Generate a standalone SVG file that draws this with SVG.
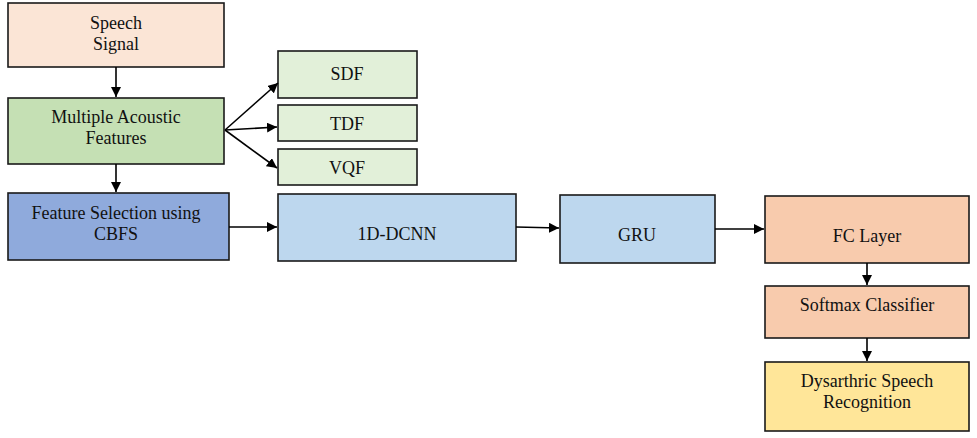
<svg xmlns="http://www.w3.org/2000/svg" width="977" height="438" viewBox="0 0 977 438" font-family="Liberation Serif, DejaVu Serif, serif">
<style>
.box{stroke:#1a1a1a;stroke-width:1.6}
.t{font-size:18px;fill:#111;text-anchor:middle}
.c{stroke:#000;stroke-width:1.6;fill:none;marker-end:url(#ah)}
</style>
<defs>
<marker id="ah" viewBox="0 0 10 10" refX="10" refY="5" markerWidth="10" markerHeight="10" markerUnits="userSpaceOnUse" orient="auto">
<path d="M0,0 L10,5 L0,10 z" fill="#000"/>
</marker>
</defs>
<rect width="977" height="438" fill="#fff"/>
<g class="t" font-family="Liberation Serif, DejaVu Serif, serif">
<g id="speech"><rect class="box" x="8" y="3" width="216" height="64" fill="#FBE5D6"/><text x="116" y="29">Speech</text><text x="116" y="50">Signal</text></g>
<g id="maf"><rect class="box" x="8" y="98" width="216" height="66" fill="#C5E0B4"/><text x="116" y="123">Multiple Acoustic</text><text x="116" y="144">Features</text></g>
<g id="fs"><rect class="box" x="8" y="193" width="221" height="67" fill="#8FAADC"/><text x="116" y="219">Feature Selection using</text><text x="116" y="240">CBFS</text></g>
<g id="sdf"><rect class="box" x="278" y="51" width="139" height="47" fill="#E2F0D9"/><text x="347" y="80">SDF</text></g>
<g id="tdf"><rect class="box" x="278" y="105" width="139" height="36" fill="#E2F0D9"/><text x="347" y="130">TDF</text></g>
<g id="vqf"><rect class="box" x="278" y="149" width="139" height="36" fill="#E2F0D9"/><text x="347" y="174">VQF</text></g>
<g id="dcnn"><rect class="box" x="278" y="194" width="238" height="67" fill="#BDD7EE"/><text x="397" y="240">1D-DCNN</text></g>
<g id="gru"><rect class="box" x="560" y="195" width="155" height="68" fill="#BDD7EE"/><text x="637" y="241">GRU</text></g>
<g id="fc"><rect class="box" x="765" y="196" width="204" height="67" fill="#F8CBAD"/><text x="867" y="242">FC Layer</text></g>
<g id="softmax"><rect class="box" x="765" y="286" width="204" height="52" fill="#F8CBAD"/><text x="867" y="311">Softmax Classifier</text></g>
<g id="dys"><rect class="box" x="765" y="362" width="204" height="69" fill="#FFE699"/><text x="867" y="387">Dysarthric Speech</text><text x="867" y="408">Recognition</text></g>
</g>
<g id="connectors">
<line class="c" x1="116" y1="67" x2="116" y2="97"/>
<line class="c" x1="116" y1="164" x2="116" y2="192"/>
<line class="c" x1="225" y1="130" x2="278" y2="83"/>
<line class="c" x1="225" y1="130" x2="277" y2="127"/>
<line class="c" x1="225" y1="130" x2="277" y2="168"/>
<line class="c" x1="229" y1="227" x2="277" y2="227"/>
<line class="c" x1="516" y1="227" x2="559" y2="228"/>
<line class="c" x1="715" y1="229" x2="764" y2="229"/>
<line class="c" x1="867" y1="263" x2="867" y2="285"/>
<line class="c" x1="867" y1="338" x2="867" y2="361"/>
</g>
</svg>
